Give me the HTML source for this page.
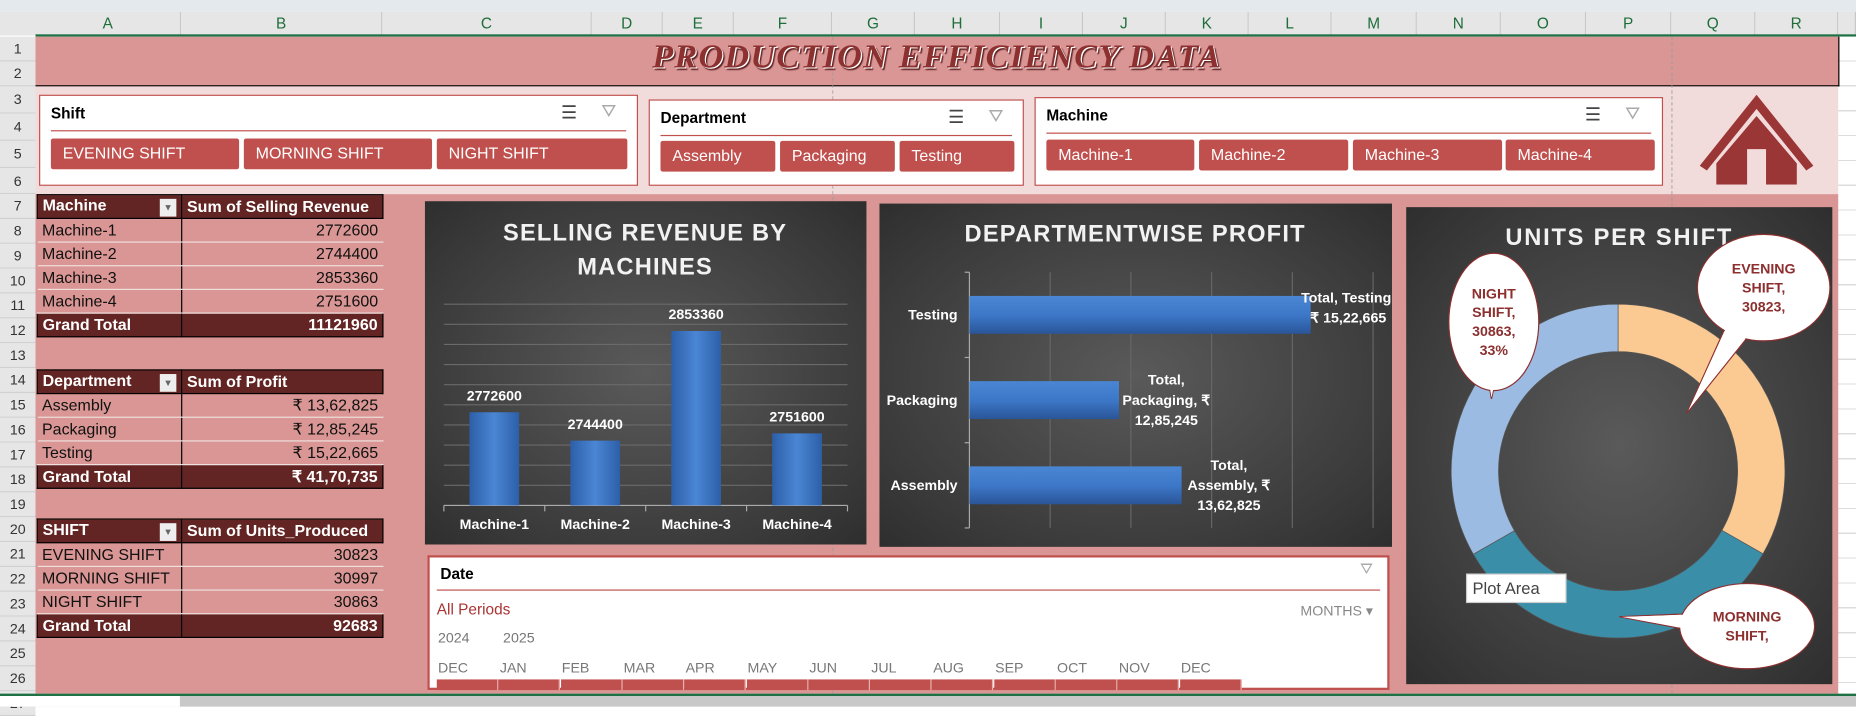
<!DOCTYPE html>
<html><head><meta charset="utf-8">
<style>
html,body{margin:0;padding:0;width:1856px;height:707px;overflow:hidden;background:#fff;font-family:"Liberation Sans",sans-serif}
#wrap{position:absolute;left:0;top:0;width:1568px;height:597px;transform:scale(1.18367);transform-origin:0 0;background:#fff}
.abs{position:absolute}
.colh{position:absolute;top:10px;height:20px;background:#e6e6e6;border-right:1px solid #c8c8c8;color:#1e6e3a;font-size:13px;text-align:center;line-height:20px;box-sizing:border-box}
.rowh{position:absolute;left:0;width:30px;background:#e6e6e6;color:#333;font-size:12px;text-align:center;border-bottom:1px solid #d0d0d0;box-sizing:border-box}
.slicer{position:absolute;background:#fff;border:1px solid #c0504d;box-sizing:border-box}
.slicer .ttl{position:absolute;left:9px;top:7px;font-size:13px;font-weight:bold;color:#000}
.slicer .line{position:absolute;left:9px;right:9px;top:29px;height:1px;background:#c0504d}
.btn{position:absolute;height:26px;background:#c0504d;color:#fff;font-size:13.5px;line-height:26px;padding-left:10px;box-sizing:border-box;border-radius:2px}
.ic{position:absolute;top:5px;font-size:15px;color:#444}
table.pv{position:absolute;border-collapse:collapse;font-size:13.5px;left:31px}
table.pv td{height:20px;padding:0 4px;border-bottom:1px solid #eee0df;box-sizing:border-box;white-space:nowrap}
table.pv td.c1{width:122px}
table.pv td.c2{width:170px;text-align:right;border-left:1px solid #000}
table.pv tr.h td,table.pv tr.g td{background:#632523;color:#fff;font-weight:bold;border:1px solid #000}
table.pv tr.h td.c2{text-align:left}
table.pv tr.d td{background:#d99694;color:#111}
.dd{display:inline-block;float:right;width:14px;height:15px;background:#eee;margin-top:2px;font-size:8px;color:#666;text-align:center;line-height:15px}
.chart{position:absolute;background:radial-gradient(ellipse at center,#5a5a5a 0%,#3a3a3a 75%,#2e2e2e 100%)}
</style></head><body>
<div id="wrap">
<div class="abs" style="left:0;top:0;width:1568px;height:10px;background:#e4e9ee"></div>
<div class="abs" style="left:0;top:10px;width:30px;height:20px;background:#e6e6e6"></div>
<div id="colheads"></div>
<div id="rowheads"></div>
<div class="abs" style="left:30px;top:29px;width:1538px;height:2px;background:#1e7145"></div>
<div class="abs" style="left:1553px;top:31px;width:15px;height:556px;background:repeating-linear-gradient(#fff 0 20px,#dcdcdc 20px 21px)"></div>
<div class="abs" style="left:30px;top:31px;width:1523px;height:41px;background:#d99694;border-bottom:1px solid #000;border-right:1px solid #000"></div>
<div class="abs" style="left:30px;top:73px;width:1523px;height:91px;background:#f2dcdb"></div>
<div class="abs" style="left:30px;top:164px;width:1523px;height:422px;background:#d99694"></div>
<div class="abs" style="left:0;top:586px;width:1568px;height:2px;background:#1e7145"></div>
<div class="abs" style="left:0;top:588px;width:1568px;height:9px;background:#c8c8c8"></div>
<div class="abs" style="left:0;top:588px;width:152px;height:9px;background:#fff"></div>
<div class="abs" style="left:703px;top:31px;width:0;height:555px;border-left:1px dashed #9a9a9a;opacity:.6"></div>
<div class="abs" style="left:1412px;top:31px;width:0;height:555px;border-left:1px dashed #9a9a9a;opacity:.7"></div>

<div class="abs" style="left:30px;top:32px;width:1523px;text-align:center;font-family:'Liberation Serif',serif;font-style:italic;font-weight:bold;font-size:29px;color:#8c3030;letter-spacing:1px;text-shadow:1px 1px 0 #fff,2px 2px 1px #5a1a1a">PRODUCTION EFFICIENCY DATA</div>

<div class="slicer" style="left:33px;top:80px;width:506px;height:77px">
 <div class="ttl">Shift</div>
 <div class="ic" style="left:440px">☰</div>
 <div class="ic" style="left:474px;color:#aaa">⛛</div>
 <div class="line"></div>
 <div class="btn" style="left:9px;top:36px;width:159px">EVENING SHIFT</div>
 <div class="btn" style="left:172px;top:36px;width:159px">MORNING SHIFT</div>
 <div class="btn" style="left:335px;top:36px;width:161px">NIGHT SHIFT</div>
</div>
<div class="slicer" style="left:548px;top:84px;width:317px;height:73px">
 <div class="ttl">Department</div>
 <div class="ic" style="left:252px">☰</div>
 <div class="ic" style="left:286px;color:#aaa">⛛</div>
 <div class="line"></div>
 <div class="btn" style="left:9px;top:34px;width:97px">Assembly</div>
 <div class="btn" style="left:110px;top:34px;width:97px">Packaging</div>
 <div class="btn" style="left:211px;top:34px;width:97px">Testing</div>
</div>
<div class="slicer" style="left:874px;top:82px;width:531px;height:75px">
 <div class="ttl">Machine</div>
 <div class="ic" style="left:464px">☰</div>
 <div class="ic" style="left:498px;color:#aaa">⛛</div>
 <div class="line"></div>
 <div class="btn" style="left:9px;top:35px;width:125px">Machine-1</div>
 <div class="btn" style="left:138px;top:35px;width:126px">Machine-2</div>
 <div class="btn" style="left:268px;top:35px;width:126px">Machine-3</div>
 <div class="btn" style="left:397px;top:35px;width:126px">Machine-4</div>
</div>
<svg class="abs" style="left:1436px;top:80px" width="96" height="76">
 <polygon points="48,0 96,60 90,64 48,12 6,64 0,60" fill="#9b3636"/>
 <polygon points="48,18 82,58 82,76 56,76 56,46 40,46 40,76 14,76 14,58" fill="#9b3636"/>
</svg>

<table class="pv" style="top:164px">
<tr class="h"><td class="c1">Machine<span class="dd">▼</span></td><td class="c2">Sum of Selling Revenue</td></tr>
<tr class="d"><td class="c1">Machine-1</td><td class="c2">2772600</td></tr>
<tr class="d"><td class="c1">Machine-2</td><td class="c2">2744400</td></tr>
<tr class="d"><td class="c1">Machine-3</td><td class="c2">2853360</td></tr>
<tr class="d"><td class="c1">Machine-4</td><td class="c2">2751600</td></tr>
<tr class="g"><td class="c1">Grand Total</td><td class="c2">11121960</td></tr>
</table>
<table class="pv" style="top:312px">
<tr class="h"><td class="c1">Department<span class="dd">▼</span></td><td class="c2">Sum of Profit</td></tr>
<tr class="d"><td class="c1">Assembly</td><td class="c2">₹ 13,62,825</td></tr>
<tr class="d"><td class="c1">Packaging</td><td class="c2">₹ 12,85,245</td></tr>
<tr class="d"><td class="c1">Testing</td><td class="c2">₹ 15,22,665</td></tr>
<tr class="g"><td class="c1">Grand Total</td><td class="c2">₹ 41,70,735</td></tr>
</table>
<table class="pv" style="top:438px">
<tr class="h"><td class="c1">SHIFT<span class="dd">▼</span></td><td class="c2">Sum of Units_Produced</td></tr>
<tr class="d"><td class="c1">EVENING SHIFT</td><td class="c2">30823</td></tr>
<tr class="d"><td class="c1">MORNING SHIFT</td><td class="c2">30997</td></tr>
<tr class="d"><td class="c1">NIGHT SHIFT</td><td class="c2">30863</td></tr>
<tr class="g"><td class="c1">Grand Total</td><td class="c2">92683</td></tr>
</table>

<div class="chart" style="left:359px;top:170px;width:373px;height:290px"><svg id="barSvg" width="373" height="290"></svg></div>
<div class="chart" style="left:743px;top:172px;width:433px;height:290px"><svg id="hbarSvg" width="433" height="290"></svg></div>
<div class="chart" style="left:1188px;top:175px;width:360px;height:403px"><svg id="donutSvg" width="360" height="403"></svg></div>

<div class="slicer" style="left:361px;top:469px;width:813px;height:114px;border-width:2px">
 <div class="ttl" style="top:6px">Date</div>
 <div class="ic" style="left:786px;top:2px;color:#aaa;font-size:13px">⛛</div>
 <div class="line" style="left:6px;right:6px;top:27px"></div>
 <div class="abs" style="left:6px;top:36px;font-size:13px;color:#a33">All Periods</div>
 <div class="abs" style="right:12px;top:38px;font-size:12px;color:#888">MONTHS ▾</div>
 <div class="abs" style="left:7px;top:61px;font-size:12px;color:#777">2024</div>
 <div class="abs" style="left:62px;top:61px;font-size:12px;color:#777">2025</div>
 <div id="months"></div>
</div>
</div>
<script>
const cols=[["A",30,153],["B",153,323],["C",323,500],["D",500,560],["E",560,620],["F",620,703],["G",703,773],["H",773,845],["I",845,915],["J",915,985],["K",985,1055],["L",1055,1125],["M",1125,1197],["N",1197,1268],["O",1268,1340],["P",1340,1412],["Q",1412,1483],["R",1483,1553]];
const ch=document.getElementById('colheads');
cols.forEach(c=>{const d=document.createElement('div');d.className='colh';d.style.left=c[1]+'px';d.style.width=(c[2]-c[1])+'px';d.textContent=c[0];


ch.appendChild(d);});
const ce=document.createElement('div');ce.className='colh';ce.style.left='1553px';ce.style.width='15px';ch.appendChild(ce);
const rh=document.getElementById('rowheads');
const rowTops=[31,52,73,96,119,142,164];
for(let r=1;r<=27;r++){let t,h;if(r<=7){t=rowTops[r-1];h=(r<7?rowTops[r]:185)-t;}else{t=164+(r-7)*21;h=21;}
const d=document.createElement('div');d.className='rowh';d.style.top=t+'px';d.style.height=h+'px';d.style.lineHeight=h+'px';d.textContent=r;


rh.appendChild(d);}
const monthLabels=["DEC","JAN","FEB","MAR","APR","MAY","JUN","JUL","AUG","SEP","OCT","NOV","DEC"];
const mm=document.getElementById('months');
monthLabels.forEach((m,i)=>{const x=7+i*52.3;
const l=document.createElement('div');l.className='abs';l.style.cssText='left:'+x+'px;top:86px;font-size:12px;color:#777';l.textContent=m;


mm.appendChild(l);
const b=document.createElement('div');b.className='abs';b.style.cssText='left:'+(x-1)+'px;top:103px;width:52px;height:9px;background:#c0504d;border-right:1px solid #e8b0ae;box-sizing:border-box';


mm.appendChild(b);});
</script>
<script>
const machines=["Machine-1","Machine-2","Machine-3","Machine-4"];
const revenue=[2772600,2744400,2853360,2751600];
const revMin=2680000, revMax=2880000, revStep=20000;
(function(){
 const s=document.getElementById('barSvg'),NS='http://www.w3.org/2000/svg';
 const X0=16,X1=357,Y0=87,Y1=257;
 const y=v=>Y1-(v-revMin)/(revMax-revMin)*(Y1-Y0);
 const bw=(X1-X0)/machines.length;
 let h='<defs><linearGradient id="bg1" x1="0" x2="1"><stop offset="0" stop-color="#2d5fa8"/><stop offset=".5" stop-color="#4a86d4"/><stop offset="1" stop-color="#2d5fa8"/></linearGradient></defs>';
 h+='<text x="186" y="33" fill="#f2f2f2" font-size="20" font-weight="bold" text-anchor="middle" letter-spacing="1">SELLING REVENUE BY</text>';
 h+='<text x="186" y="62" fill="#f2f2f2" font-size="20" font-weight="bold" text-anchor="middle" letter-spacing="1">MACHINES</text>';
 for(let v=revMin;v<=revMax;v+=revStep){h+='<line x1="'+X0+'" x2="'+X1+'" y1="'+y(v)+'" y2="'+y(v)+'" stroke="#6a6a6a" stroke-width="1"/>';}
 h+='<line x1="'+X0+'" x2="'+X1+'" y1="'+Y1+'" y2="'+Y1+'" stroke="#aaa"/>';
 s.innerHTML=h;
 machines.forEach((m,i)=>{const cx=X0+bw*(i+.5),top=y(revenue[i]);
  const r=document.createElementNS(NS,'rect');r.setAttribute('x',cx-21);r.setAttribute('y',top);r.setAttribute('width',42);r.setAttribute('height',Y1-top);r.setAttribute('fill','url(#bg1)');
  
  
  s.appendChild(r);
  const t=document.createElementNS(NS,'text');t.setAttribute('x',cx);t.setAttribute('y',top-10);t.setAttribute('fill','#fff');t.setAttribute('font-size','12');t.setAttribute('font-weight','bold');t.setAttribute('text-anchor','middle');t.textContent=revenue[i];
  
  
  s.appendChild(t);
  const l=document.createElementNS(NS,'text');l.setAttribute('x',cx);l.setAttribute('y',Y1+20);l.setAttribute('fill','#fff');l.setAttribute('font-size','12');l.setAttribute('font-weight','bold');l.setAttribute('text-anchor','middle');l.textContent=m;
  
  
  s.appendChild(l);
  const tk=document.createElementNS(NS,'line');tk.setAttribute('x1',X0+bw*i);tk.setAttribute('x2',X0+bw*i);tk.setAttribute('y1',Y1);tk.setAttribute('y2',Y1+5);tk.setAttribute('stroke','#aaa');s.appendChild(tk);
 });
 const tk=document.createElementNS(NS,'line');tk.setAttribute('x1',X1);tk.setAttribute('x2',X1);tk.setAttribute('y1',Y1);tk.setAttribute('y2',Y1+5);tk.setAttribute('stroke','#aaa');s.appendChild(tk);
})();
</script>
<script>
const departments=["Testing","Packaging","Assembly"];
const profit=[1522665,1285245,1362825];
const profitLabels=[["Total, Testing,","₹ 15,22,665"],["Total,","Packaging, ₹","12,85,245"],["Total,","Assembly, ₹","13,62,825"]];
const profMin=1100000, profMax=1600000, profStep=100000;
(function(){
 const s=document.getElementById('hbarSvg'),NS='http://www.w3.org/2000/svg';
 const X0=76,X1=417,Y0=58,Y1=274;
 const x=v=>X0+(v-profMin)/(profMax-profMin)*(X1-X0);
 const bh=(Y1-Y0)/departments.length;
 let h='<defs><linearGradient id="bg2" x1="0" y1="0" x2="0" y2="1"><stop offset="0" stop-color="#4a86d4"/><stop offset=".5" stop-color="#3d78c8"/><stop offset="1" stop-color="#2a5598"/></linearGradient></defs>';
 h+='<text x="216" y="32" fill="#f2f2f2" font-size="20" font-weight="bold" text-anchor="middle" letter-spacing="1">DEPARTMENTWISE PROFIT</text>';
 for(let v=profMin+profStep;v<=profMax;v+=profStep){h+='<line x1="'+x(v)+'" x2="'+x(v)+'" y1="'+Y0+'" y2="'+Y1+'" stroke="#666"/>';}
 h+='<line x1="'+X0+'" x2="'+X0+'" y1="'+Y0+'" y2="'+Y1+'" stroke="#aaa"/>';
 for(let i=0;i<=departments.length;i++)h+='<line x1="'+(X0-4)+'" x2="'+X0+'" y1="'+(Y0+bh*i)+'" y2="'+(Y0+bh*i)+'" stroke="#aaa"/>';
 s.innerHTML=h;
 departments.forEach((d,i)=>{const cy=Y0+bh*(i+.5),xe=x(profit[i]);
  const r=document.createElementNS(NS,'rect');r.setAttribute('x',X0);r.setAttribute('y',cy-16);r.setAttribute('width',xe-X0);r.setAttribute('height',32);r.setAttribute('fill','url(#bg2)');
  
  
  s.appendChild(r);
  const l=document.createElementNS(NS,'text');l.setAttribute('x',X0-10);l.setAttribute('y',cy+4);l.setAttribute('fill','#fff');l.setAttribute('font-size','12');l.setAttribute('font-weight','bold');l.setAttribute('text-anchor','end');l.textContent=d;
  
  
  s.appendChild(l);
  const lines=profitLabels[i];const n=lines.length;
  const t=document.createElementNS(NS,'text');t.setAttribute('fill','#fff');t.setAttribute('font-size','12');t.setAttribute('font-weight','bold');t.setAttribute('text-anchor','middle');
  
  
  const lx=n===2?Math.min(xe+34,396):xe+40;
  lines.forEach((ln,j)=>{const sp=document.createElementNS(NS,'tspan');sp.setAttribute('x',lx);sp.setAttribute('y',cy+4+(j-(n-1)/2)*17-(n===2?6:0));sp.textContent=ln;t.appendChild(sp);});
  s.appendChild(t);
 });
})();
</script>
<script>
const shifts=["EVENING SHIFT","MORNING SHIFT","NIGHT SHIFT"];
const units=[30823,30997,30863];
const shiftColors=["#fbc992","#3a8ea8","#9cbbe2"];
(function(){
 const s=document.getElementById('donutSvg'),NS='http://www.w3.org/2000/svg';
 const cx=179,cy=223,R=141,r=101;
 const tot=units.reduce((a,b)=>a+b,0);
 let h='<text x="180" y="32" fill="#f2f2f2" font-size="20" font-weight="bold" text-anchor="middle" letter-spacing="1.5">UNITS PER SHIFT</text>';
 s.innerHTML=h;
 let a=0;
 units.forEach((u,i)=>{const a0=a,a1=a+u/tot*2*Math.PI;a=a1;
  const p=(ang,rad)=>[cx+rad*Math.sin(ang),cy-rad*Math.cos(ang)];
  const [x0,y0]=p(a0,R),[x1,y1]=p(a1,R),[x2,y2]=p(a1,r),[x3,y3]=p(a0,r);const lg=(a1-a0)>Math.PI?1:0;
  const path=document.createElementNS(NS,'path');
  path.setAttribute('d','M'+x0+' '+y0+' A'+R+' '+R+' 0 '+lg+' 1 '+x1+' '+y1+' L'+x2+' '+y2+' A'+r+' '+r+' 0 '+lg+' 0 '+x3+' '+y3+'Z');
  path.setAttribute('fill',shiftColors[i]);path.setAttribute('stroke','#555');path.setAttribute('stroke-width','0.6');
  
  
  s.appendChild(path);
 });
 const callouts=[
  {cx:302,cy:68,rx:56,ry:45,tip:[237,174],lines:["EVENING","SHIFT,",units[0]+","]},
  {cx:288,cy:354,rx:57,ry:36,tip:[180,346],lines:["MORNING","SHIFT,"]},
  {cx:74,cy:97,rx:38,ry:58,tip:[72,162],lines:["NIGHT","SHIFT,",units[2]+",",Math.round(units[2]/tot*100)+"%"]}
 ];
 callouts.forEach((c,i)=>{
  const g=document.createElementNS(NS,'g');
  
  
  const dx=c.tip[0]-c.cx,dy=c.tip[1]-c.cy,L=Math.hypot(dx,dy),px=-dy/L,py=dx/L,w=Math.min(c.rx,c.ry)*0.35;
  g.innerHTML='<polygon points="'+(c.cx+px*w)+','+(c.cy+py*w)+' '+c.tip[0]+','+c.tip[1]+' '+(c.cx-px*w)+','+(c.cy-py*w)+'" fill="#fff" stroke="#8c2f2f"/>'+
   '<ellipse cx="'+c.cx+'" cy="'+c.cy+'" rx="'+c.rx+'" ry="'+c.ry+'" fill="#fff" stroke="#8c2f2f"/>'+
   '<polygon points="'+(c.cx+px*(w-1))+','+(c.cy+py*(w-1))+' '+(c.tip[0]-dx*0.02)+','+(c.tip[1]-dy*0.02)+' '+(c.cx-px*(w-1))+','+(c.cy-py*(w-1))+'" fill="#fff"/>';
  const n=c.lines.length;
  c.lines.forEach((ln,j)=>{const t=document.createElementNS(NS,'text');t.setAttribute('x',c.cx);t.setAttribute('y',c.cy+4+(j-(n-1)/2)*16);t.setAttribute('fill','#8c2f2f');t.setAttribute('font-size','12');t.setAttribute('font-weight','bold');t.setAttribute('text-anchor','middle');t.textContent=ln;g.appendChild(t);});
  s.appendChild(g);
 });
 const pa=document.createElementNS(NS,'g');
 
 
 pa.innerHTML='<rect x="51" y="310" width="84" height="24" fill="#fff" stroke="#ccc"/><text x="56" y="327" font-size="14" fill="#444">Plot Area</text>';
 s.appendChild(pa);
})();
</script>
</body></html>
